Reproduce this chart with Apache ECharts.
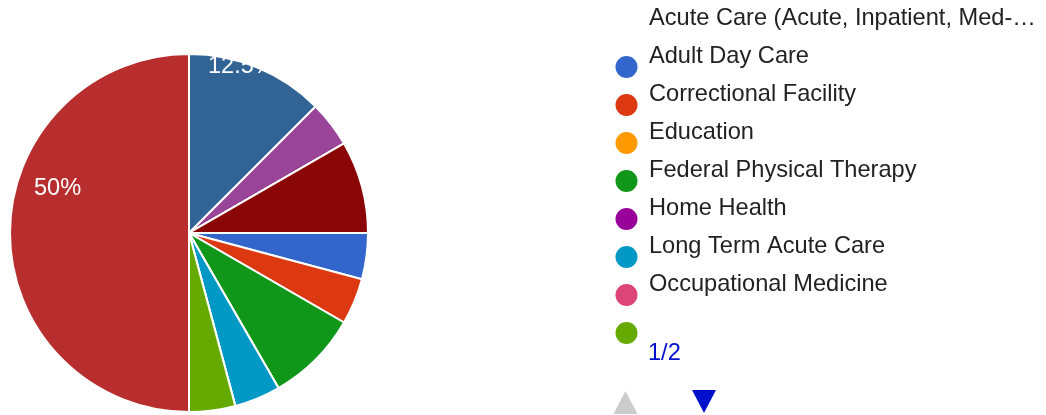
<!DOCTYPE html>
<html>
<head>
<meta charset="utf-8">
<script src="https://cdn.jsdelivr.net/npm/echarts@6/dist/echarts.min.js"></script>
<style>
html,body{margin:0;padding:0;background:#fff;}
#chart{width:1046px;height:415px;}
</style>
</head>
<body>
<div id="chart"></div>
<script>
// Categories (legend order, page 1 shows first 8)
const categories = [
  "Acute Care (Acute, Inpatient, Med-Surg, ICU)",
  "Adult Day Care",
  "Correctional Facility",
  "Education",
  "Federal Physical Therapy",
  "Home Health",
  "Long Term Acute Care",
  "Occupational Medicine",
  "Outpatient Orthopedics",
  "Pediatrics",
  "Private Practice",
  "Rehab Hospital",
  "School Based",
  "Skilled Nursing Facility",
  "Sports Medicine",
  "Wellness"
];
// Counts per category
const values = [1, 1, 0, 2, 0, 1, 0, 1, 12, 3, 1, 0, 0, 0, 0, 2];
const colors = ["#3366cc","#dc3912","#ff9900","#109618","#990099","#0099c6","#dd4477","#66aa00",
                "#b82e2e","#316395","#994499","#22aa99","#aaaa11","#6633cc","#e67300","#8b0707"];
const pageText = "1/2";
const legendPage = categories.slice(0, 8);

const FONT = 'Arial, "Liberation Sans", sans-serif';
const FS = 23.6;
const chart = echarts.init(document.getElementById('chart'), null, {renderer: 'canvas'});
const labelShift = {8: [-39, -45], 9: [17, -81]};

chart.setOption({
  animation: false,
  color: colors,
  legend: [
    {
      // icons
      orient: 'vertical', left: 613.5, top: 54, padding: 0,
      itemWidth: 24, itemHeight: 24, itemGap: 12,
      icon: 'circle',
      data: legendPage,
      formatter: () => '',
      textStyle: {fontSize: 12, lineHeight: 24},
      selectedMode: false
    },
    {
      // texts
      orient: 'vertical', left: 643, top: 5, padding: 0,
      itemWidth: 0, itemHeight: 24, itemGap: 12,
      icon: 'rect',
      itemStyle: {opacity: 0, color: 'rgba(0,0,0,0)'},
      data: legendPage,
      selectedMode: false,
      textStyle: {fontFamily: FONT, fontSize: FS, lineHeight: 24, color: '#222222', width: 395, overflow: 'truncate', ellipsis: '…'}
    }
  ],
  graphic: [
    {type: 'text', x: 648, y: 353, style: {text: pageText, fill: '#0011cc', font: FS + 'px ' + FONT, verticalAlign: 'middle'}},
    {type: 'polygon', shape: {points: [[625.5, 391], [613.5, 414], [637.5, 414]]}, style: {fill: '#cccccc'}},
    {type: 'polygon', shape: {points: [[692, 390], [716, 390], [704, 413]]}, style: {fill: '#0011cc'}}
  ],
  series: [{
    type: 'pie',
    center: [189, 233],
    radius: [0, 179],
    startAngle: 0,
    clockwise: true,
    avoidLabelOverlap: false,
    itemStyle: {borderColor: '#ffffff', borderWidth: 2},
    label: {
      show: true, position: 'inside', color: '#ffffff', fontFamily: FONT, fontSize: FS,
      formatter: p => (p.dataIndex === 8 || p.dataIndex === 9) ? p.percent + '%' : ''
    },
    labelLine: {show: false},
    labelLayout: p => {
      const s = labelShift[p.dataIndex];
      return s ? {dx: s[0], dy: s[1]} : {};
    },
    emphasis: {disabled: true},
    data: categories.map((c, i) => ({name: c, value: values[i]}))
  }]
});
</script>
</body>
</html>
